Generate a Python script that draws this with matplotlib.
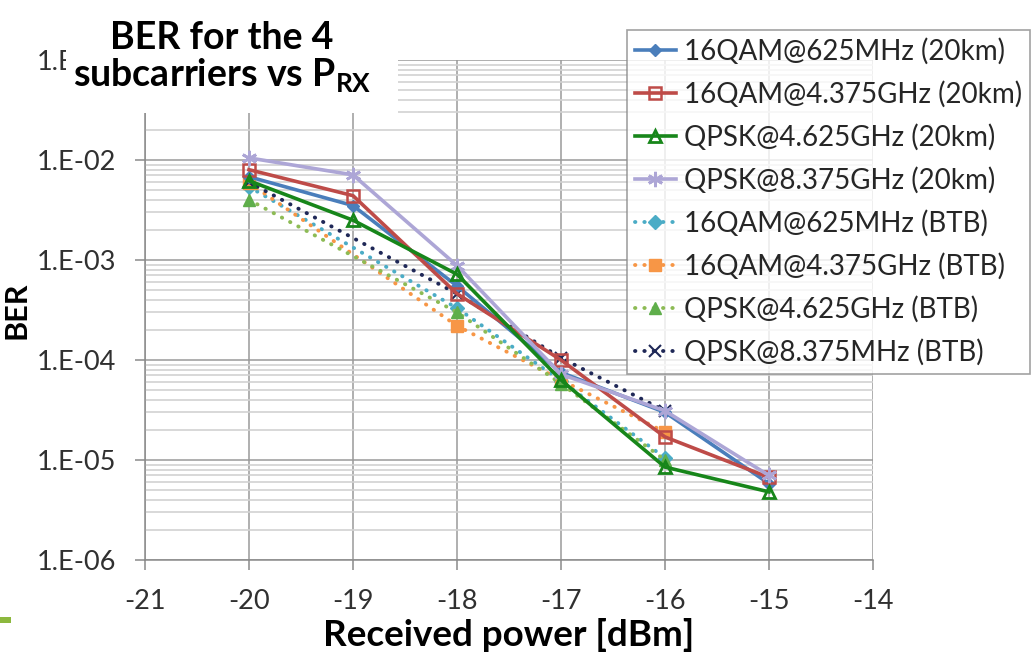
import numpy as np
import matplotlib
matplotlib.use('Agg')
import matplotlib.pyplot as plt
from matplotlib.patches import Rectangle
from matplotlib.ticker import LogLocator, FuncFormatter, MultipleLocator

plt.rcParams['font.family'] = ['Lato', 'DejaVu Sans']
plt.rcParams['mathtext.fontset'] = 'custom'
plt.rcParams['mathtext.rm'] = 'Lato:bold'

#%% data
x_20km = [-20, -19, -18, -17, -16, -15]
qam625_20km = [6.8e-3, 3.5e-3, 5.5e-4, 7.5e-5, 3.0e-5, 5.8e-6]
qam4375_20km = [8.0e-3, 4.4e-3, 4.6e-4, 1.0e-4, 1.7e-5, 6.7e-6]
qpsk4625_20km = [6.2e-3, 2.5e-3, 7.2e-4, 6.3e-5, 8.5e-6, 4.8e-6]
qpsk8375_20km = [1.05e-2, 7.1e-3, 8.8e-4, 7.2e-5, 3.1e-5, 7.0e-6]

x_btb = [-20, -18, -17, -16]
qam625_btb = [5.4e-3, 3.3e-4, 6.2e-5, 1.05e-5]
qam4375_btb = [5.9e-3, 2.2e-4, 6.3e-5, 1.9e-5]
qpsk4625_btb = [4.0e-3, 3.0e-4, 5.8e-5, 1.0e-5]
qpsk8375_btb = [6.0e-3, 4.6e-4, 1.05e-4, 3.1e-5]

labels = ['16QAM@625MHz (20km)', '16QAM@4.375GHz (20km)', 'QPSK@4.625GHz (20km)',
          'QPSK@8.375GHz (20km)', '16QAM@625MHz (BTB)', '16QAM@4.375GHz (BTB)',
          'QPSK@4.625GHz (BTB)', 'QPSK@8.375MHz (BTB)']

#%% figure
W, H = 1031, 657
fig = plt.figure(figsize=(W / 100, H / 100), dpi=100)
ax = fig.add_axes([145 / W, 1 - 560 / H, (873 - 145) / W, 500 / H])

star = (6, 2, 0)
dot = (0, (0.1, 2.3))
ax.plot(x_20km, qam625_20km, color='#4A7EBB', lw=2.6, marker='D', ms=6, label=labels[0], zorder=3)
ax.plot(x_20km, qam4375_20km, color='#BE4B48', lw=2.6, marker='s', ms=9, mfc='none', mew=1.8, label=labels[1], zorder=3)
ax.plot(x_20km, qpsk4625_20km, color='#17861A', lw=2.6, marker='^', ms=9, mfc='none', mew=2, label=labels[2], zorder=4)
ax.plot(x_20km, qpsk8375_20km, color='#ADA6D6', lw=2.6, marker=star, ms=11, mew=2, label=labels[3], zorder=3)

ax.plot(x_btb, qam625_btb, color='#4BACC6', lw=2.8, ls=dot, dash_capstyle='round', marker='D', ms=7, label=labels[4], zorder=2)
ax.plot(x_btb, qam4375_btb, color='#F79646', lw=2.8, ls=dot, dash_capstyle='round', marker='s', ms=9, label=labels[5], zorder=2)
ax.plot(x_btb, qpsk4625_btb, color='#8DBB55', lw=2.8, ls=dot, dash_capstyle='round', marker='^', ms=8, mfc='#5FAE4B', mec='#5FAE4B', label=labels[6], zorder=2)
ax.plot(x_btb, qpsk8375_btb, color='#1F2857', lw=2.8, ls=dot, dash_capstyle='round', marker='x', ms=8, mew=1.5, label=labels[7], zorder=2)

ax.set_yscale('log')
ax.set_ylim(1e-6, 1e-1)
ax.set_xlim(-21, -14)
ax.xaxis.set_major_locator(MultipleLocator(1))
ax.yaxis.set_major_locator(LogLocator(base=10, numticks=10))
ax.yaxis.set_minor_locator(LogLocator(base=10, subs=np.arange(2, 10), numticks=20))
ax.yaxis.set_major_formatter(FuncFormatter(lambda v, p: '1.E-%02d' % round(-np.log10(v))))
ax.xaxis.set_major_formatter(FuncFormatter(lambda v, p: '%d' % v))

ax.grid(which='major', color='#9A9A9A', lw=1.1)
ax.grid(which='minor', axis='y', color='#D2D2D2', lw=1.2)
ax.set_axisbelow(True)
for s in ['top', 'right']:
    ax.spines[s].set_visible(False)
for s in ['left', 'bottom']:
    ax.spines[s].set_color('#8A8A8A')
    ax.spines[s].set_linewidth(1.1)
ax.tick_params(which='major', length=7, width=1.1, color='#8A8A8A', labelsize=19.5, labelcolor='#303030', pad=14)
ax.tick_params(which='minor', length=0)

ax.set_xlabel('Received power [dBm]', fontsize=26.5, fontweight='bold', labelpad=3)
ax.set_ylabel('BER', fontsize=22, fontweight='bold', labelpad=4)

leg = ax.legend(loc='upper left', bbox_to_anchor=(627 / W, 1 - 30 / H), bbox_transform=fig.transFigure,
                fontsize=20, frameon=True, fancybox=False, borderpad=0.3, borderaxespad=0,
                labelspacing=0.58, handlelength=1.45, handletextpad=0.3)
leg.get_frame().set_edgecolor('#8A8A8A')
leg.get_frame().set_linewidth(1.2)
for t in leg.get_texts():
    t.set_color('#262626')

# white title box over the top-left corner
fig.patches.append(Rectangle((66 / W, 1 - 113 / H), (398 - 66) / W, 113 / H, transform=fig.transFigure,
                             facecolor='white', edgecolor='none', zorder=5))
fig.text(222 / W, 1 - 38 / H, 'BER for the 4', ha='center', va='center', fontsize=27,
         fontweight='bold', zorder=6)
fig.text(222 / W, 1 - 76 / H, 'subcarriers vs P$_{\\mathrm{RX}}$', ha='center', va='center', fontsize=27,
         fontweight='bold', zorder=6)

# green accent bar
fig.patches.append(Rectangle((0, 1 - 623 / H), 11 / W, 6 / H, transform=fig.transFigure,
                             facecolor='#8CB83E', edgecolor='none', zorder=5))

fig.savefig('out.png', dpi=100)
